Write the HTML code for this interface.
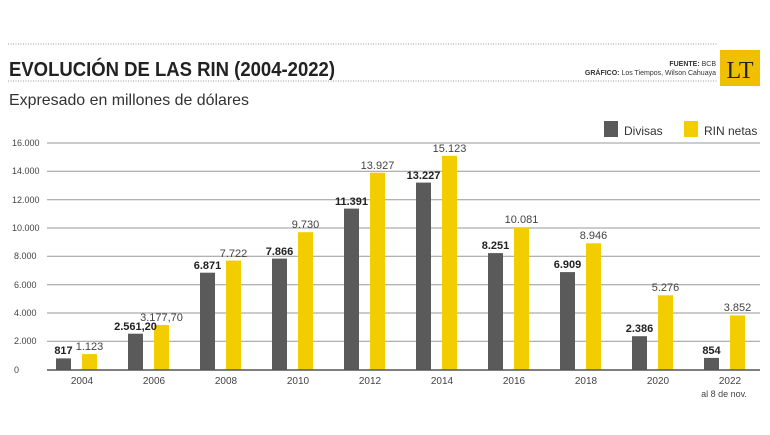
<!DOCTYPE html>
<html><head><meta charset="utf-8"><style>
body{margin:0;background:#fff;width:770px;height:430px;overflow:hidden;font-family:"Liberation Sans",sans-serif;}
</style></head><body>
<svg width="770" height="430" xmlns="http://www.w3.org/2000/svg" font-family="Liberation Sans, sans-serif">
<line x1="8" y1="44" x2="718" y2="44" stroke="#999" stroke-dasharray="1,1.5"/>
<line x1="8" y1="81" x2="718" y2="81" stroke="#999" stroke-dasharray="1,1.5"/>
<text x="9" y="76" font-size="20" font-weight="bold" fill="#222" textLength="326" lengthAdjust="spacingAndGlyphs">EVOLUCIÓN DE LAS RIN (2004-2022)</text>
<text x="9" y="105" font-size="16" fill="#333" textLength="240" lengthAdjust="spacingAndGlyphs">Expresado en millones de dólares</text>
<text x="716" y="66" font-size="7" fill="#333" text-anchor="end"><tspan font-weight="bold">FUENTE:</tspan> BCB</text>
<text x="716" y="75" font-size="7" fill="#333" text-anchor="end"><tspan font-weight="bold">GRÁFICO:</tspan> Los Tiempos, Wilson Cahuaya</text>
<rect x="720" y="50" width="40" height="36" fill="#f0c000"/>
<text x="740" y="78" font-size="24" font-family="Liberation Serif, serif" text-anchor="middle" fill="#222">LT</text>
<rect x="604" y="121" width="14" height="16" fill="#5a5a5a"/>
<text x="624" y="135" font-size="12" fill="#333">Divisas</text>
<rect x="684" y="121" width="14" height="16" fill="#f2cd00"/>
<text x="704" y="135" font-size="12" fill="#333">RIN netas</text>
<g font-size="9" fill="#444">
<g stroke="#999" stroke-width="1">
<line x1="47" y1="143" x2="760" y2="143"/><line x1="47" y1="171.3" x2="760" y2="171.3"/><line x1="47" y1="199.7" x2="760" y2="199.7"/><line x1="47" y1="228" x2="760" y2="228"/><line x1="47" y1="256.3" x2="760" y2="256.3"/><line x1="47" y1="284.7" x2="760" y2="284.7"/><line x1="47" y1="313" x2="760" y2="313"/><line x1="47" y1="341.3" x2="760" y2="341.3"/>
</g>
<text x="12" y="146">16.000</text><text x="12" y="174">14.000</text><text x="12" y="203">12.000</text><text x="12" y="231">10.000</text><text x="14" y="259">8.000</text><text x="14" y="288">6.000</text><text x="14" y="316">4.000</text><text x="14" y="344">2.000</text><text x="14" y="373">0</text>
</g>
<g fill="#5a5a5a">
<rect x="56" y="358.4" width="15" height="11.6"/>
<rect x="128" y="333.7" width="15" height="36.3"/>
<rect x="200" y="272.7" width="15" height="97.3"/>
<rect x="272" y="258.6" width="15" height="111.4"/>
<rect x="344" y="208.6" width="15" height="161.4"/>
<rect x="416" y="182.6" width="15" height="187.4"/>
<rect x="488" y="253.1" width="15" height="116.9"/>
<rect x="560" y="272.1" width="15" height="97.9"/>
<rect x="632" y="336.2" width="15" height="33.8"/>
<rect x="704" y="357.9" width="15" height="12.1"/>
</g>
<g fill="#f2cd00">
<rect x="82" y="354.1" width="15" height="15.9"/>
<rect x="154" y="325" width="15" height="45"/>
<rect x="226" y="260.6" width="15" height="109.4"/>
<rect x="298" y="232.2" width="15" height="137.8"/>
<rect x="370" y="172.7" width="15" height="197.3"/>
<rect x="442" y="155.8" width="15" height="214.2"/>
<rect x="514" y="227.2" width="15" height="142.8"/>
<rect x="586" y="243.3" width="15" height="126.7"/>
<rect x="658" y="295.3" width="15" height="74.7"/>
<rect x="730" y="315.4" width="15" height="54.6"/>
</g>
<g font-size="11" font-weight="bold" fill="#222" text-anchor="middle">
<text x="63.5" y="354">817</text>
<text x="135.5" y="330">2.561,20</text>
<text x="207.5" y="269">6.871</text>
<text x="279.5" y="255">7.866</text>
<text x="351.5" y="205">11.391</text>
<text x="423.5" y="179">13.227</text>
<text x="495.5" y="249">8.251</text>
<text x="567.5" y="268">6.909</text>
<text x="639.5" y="332">2.386</text>
<text x="711.5" y="354">854</text>
</g>
<g font-size="11" fill="#444" text-anchor="middle">
<text x="89.5" y="350">1.123</text>
<text x="161.5" y="321">3.177,70</text>
<text x="233.5" y="257">7.722</text>
<text x="305.5" y="228">9.730</text>
<text x="377.5" y="169">13.927</text>
<text x="449.5" y="152">15.123</text>
<text x="521.5" y="223">10.081</text>
<text x="593.5" y="239">8.946</text>
<text x="665.5" y="291">5.276</text>
<text x="737.5" y="311">3.852</text>
</g>
<g font-size="10" fill="#444" text-anchor="middle">
<text x="82" y="384">2004</text><text x="154" y="384">2006</text><text x="226" y="384">2008</text><text x="298" y="384">2010</text><text x="370" y="384">2012</text><text x="442" y="384">2014</text><text x="514" y="384">2016</text><text x="586" y="384">2018</text><text x="658" y="384">2020</text><text x="730" y="384">2022</text>
<text x="724" y="397" font-size="9">al 8 de nov.</text>
</g>
<line x1="47" y1="370" x2="760" y2="370" stroke="#555" stroke-width="1.5"/>
</svg>
</body></html>
